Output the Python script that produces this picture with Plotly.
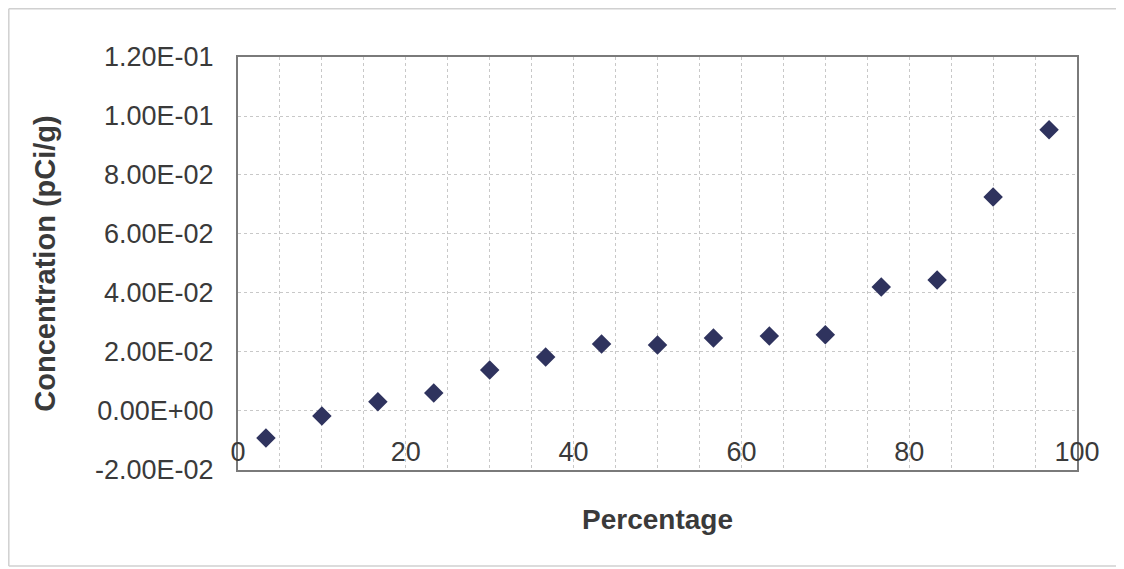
import plotly.graph_objects as go

# Data
percentage = [3.33, 10.0, 16.67, 23.33, 30.0, 36.67, 43.33, 50.0, 56.67, 63.33, 70.0, 76.67, 83.33, 90.0, 96.67]
concentration = [-0.0092, -0.0017, 0.0031, 0.0061, 0.0139, 0.0183, 0.0227, 0.0224, 0.0247, 0.0254, 0.0258,
                 0.0420, 0.0444, 0.0725, 0.0953]

y_tick_vals = [-0.02, 0.0, 0.02, 0.04, 0.06, 0.08, 0.10, 0.12]
y_tick_text = ["-2.00E-02", "0.00E+00", "2.00E-02", "4.00E-02", "6.00E-02", "8.00E-02", "1.00E-01", "1.20E-01"]
x_tick_vals = [0, 20, 40, 60, 80, 100]

FONT = "Liberation Sans, Arial, sans-serif"
TXT = "#3a3a3a"
GRID = "#c8c8c8"

# figure size / plot area in figure pixels (page adds ~8px body offset)
W, H = 1116, 561
L, R, T, B = 230, 47, 49, 99
PW = W - L - R
PH = H - T - B

fig = go.Figure()
fig.add_trace(go.Scatter(
    x=percentage, y=concentration, mode="markers", xaxis="x", yaxis="y",
    marker=dict(symbol="diamond", size=15, color="#2f335e", line=dict(width=0)),
    showlegend=False,
))
# invisible copy on the label axis so it is drawn
fig.add_trace(go.Scatter(
    x=percentage, y=concentration, mode="markers", xaxis="x2", yaxis="y",
    marker=dict(opacity=0), showlegend=False, hoverinfo="skip",
))

def px_x(p):
    return (p - L) / PW

def px_y(p):
    return (H - B - p) / PH

border_col = "#d0d0d0"
fig.update_layout(
    width=W, height=H,
    paper_bgcolor="white", plot_bgcolor="white",
    margin=dict(l=L, r=R, t=T, b=B, autoexpand=False),
    font=dict(family=FONT, color=TXT),
    shapes=[
        dict(type="line", xref="paper", yref="paper", x0=px_x(0.8), x1=px_x(0.8), y0=px_y(0.8), y1=px_y(558),
             line=dict(color=border_col, width=1.5)),
        dict(type="line", xref="paper", yref="paper", x0=px_x(0.8), x1=px_x(W), y0=px_y(0.8), y1=px_y(0.8),
             line=dict(color=border_col, width=1.5)),
        dict(type="line", xref="paper", yref="paper", x0=px_x(0.8), x1=px_x(W), y0=px_y(558), y1=px_y(558),
             line=dict(color=border_col, width=1.5)),
    ],
    xaxis=dict(
        anchor="y",
        range=[0, 100], tickvals=x_tick_vals, showticklabels=False, ticks="",
        showgrid=True, gridcolor=GRID, griddash="dot", gridwidth=1,
        minor=dict(dtick=5, showgrid=True, gridcolor=GRID, griddash="dot", gridwidth=1),
        showline=True, linecolor="#7a7a7a", linewidth=2, mirror=True,
        zeroline=False,
        title=dict(text="<b>Percentage</b>", font=dict(size=28, color=TXT, family=FONT), standoff=38),
    ),
    xaxis2=dict(
        overlaying="x", anchor="free", position=0.09, side="bottom",
        range=[0, 100], tickvals=x_tick_vals, ticks="", showline=False,
        showgrid=False, zeroline=False,
        tickfont=dict(size=27, color=TXT, family=FONT),
    ),
    yaxis=dict(
        anchor="x",
        range=[-0.02001, 0.12], tickvals=y_tick_vals, ticktext=y_tick_text,
        ticks="", ticklabelstandoff=17,
        tickfont=dict(size=27, color=TXT, family=FONT),
        showgrid=True, gridcolor=GRID, griddash="dot", gridwidth=1,
        showline=True, linecolor="#7a7a7a", linewidth=2, mirror=True,
        zeroline=False,
        title=dict(text="<b>Concentration (pCi/g)</b>", font=dict(size=29, color=TXT, family=FONT), standoff=31),
    ),
)

fig.write_html("out.html")
